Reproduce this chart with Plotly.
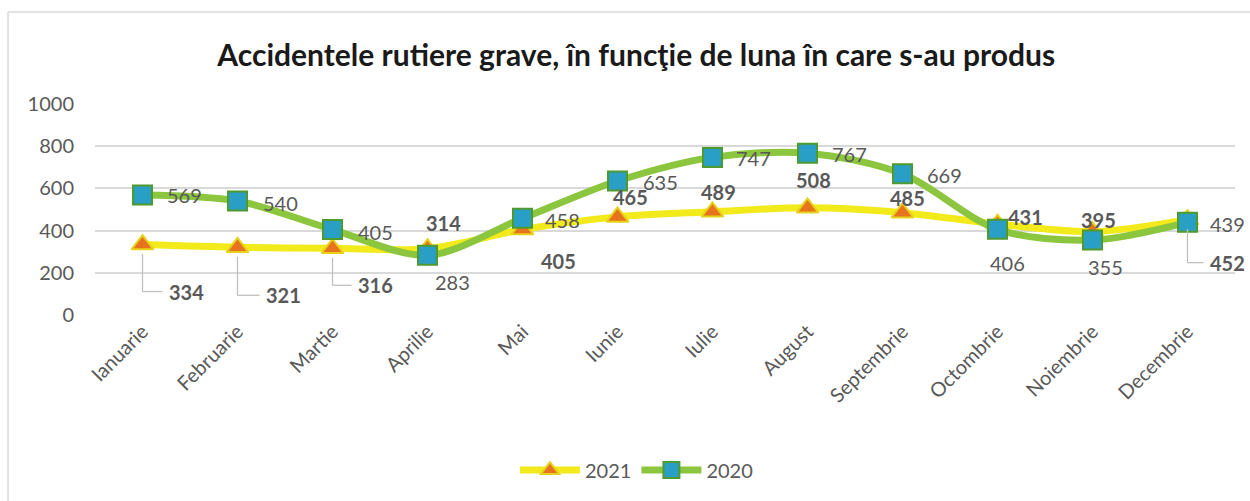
import plotly.graph_objects as go

months = ["Ianuarie", "Februarie", "Martie", "Aprilie", "Mai", "Iunie", "Iulie",
          "August", "Septembrie", "Octombrie", "Noiembrie", "Decembrie"]
v2021 = [334, 321, 316, 314, 405, 465, 489, 508, 485, 431, 395, 452]
v2020 = [569, 540, 405, 283, 458, 635, 747, 767, 669, 406, 355, 439]
y_ticks = [0, 200, 400, 600, 800, 1000]

# label offsets in pixels (dx, dy) relative to marker; leader flag
off2021 = [(44, -47, True), (46, -48, True), (43, -37, True), (16, 26, False),
           (36, -31, False), (13, 20, False), (6, 20, False), (6, 28, False),
           (5, 15, False), (28, 7, False), (6, 12, False), (40, -43, True)]
off2020 = [(42, 0), (43, -2), (43, -2), (25, -27), (40, -2), (43, -1), (41, -1),
           (42, -1), (42, -1), (10, -34), (13, -27), (40, -2)]

FONT = "Lato"
GREY = "#595959"
YEL = "#F2EA1B"
GRN = "#8CC63F"

fig = go.Figure()
fig.add_trace(go.Scatter(
    x=months, y=v2021, name="2021", mode="lines+markers",
    line=dict(color=YEL, width=7, shape="spline", smoothing=0.9),
    marker=dict(symbol="triangle-up", size=19, color="#E8731E",
                line=dict(color="#E6D21A", width=2)),
))
fig.add_trace(go.Scatter(
    x=months, y=v2020, name="2020", mode="lines+markers",
    line=dict(color=GRN, width=7, shape="spline", smoothing=0.9),
    marker=dict(symbol="square", size=19, color="#2A9FC6",
                line=dict(color="#4E9A2E", width=2)),
))

ann = []
shapes = []
for i, (m, v) in enumerate(zip(months, v2021)):
    dx, dy, lead = off2021[i]
    ann.append(dict(x=m, y=v, xref="x", yref="y", text=f"<b>{v}</b>", showarrow=False,
                    xshift=dx, yshift=dy, font=dict(family=FONT, size=20, color=GREY)))
for i, (m, v) in enumerate(zip(months, v2020)):
    dx, dy = off2020[i]
    ann.append(dict(x=m, y=v, xref="x", yref="y", text=f"{v}", showarrow=False,
                    xshift=dx, yshift=dy, font=dict(family=FONT, size=20, color=GREY)))

# leader lines (elbow) for labels placed below markers
px_per_unit = 211 / 1000.0
px_per_cat = 1140 / 12.0
for i, v in enumerate(v2021):
    dx, dy, lead = off2021[i]
    if lead:
        ylow = v + dy / px_per_unit
        shapes.append(dict(type="line", xref="x", yref="y", x0=i, x1=i,
                           y0=v - 45, y1=ylow, line=dict(color="#BFBFBF", width=1.3)))
        shapes.append(dict(type="line", xref="x", yref="y", x0=i, x1=i + (dx - 24) / px_per_cat,
                           y0=ylow, y1=ylow, line=dict(color="#BFBFBF", width=1.3)))

# outer chart border (top and left visible)
shapes.append(dict(type="line", xref="paper", yref="paper", x0=-0.0763, x1=1.03,
                   y0=1.436, y1=1.436, line=dict(color="#D9D9D9", width=1.5)))
shapes.append(dict(type="line", xref="paper", yref="paper", x0=-0.0763, x1=-0.0763,
                   y0=1.436, y1=-0.95, line=dict(color="#D9D9D9", width=1.5)))

fig.update_layout(
    width=1250, height=501,
    margin=dict(l=95, r=15, t=104, b=186, autoexpand=False),
    paper_bgcolor="white", plot_bgcolor="white",
    title=dict(text="<b>Accidentele rutiere grave, în funcţie de luna în care s-au produs</b>",
               x=0.509, xanchor="center", y=0.89, yanchor="middle",
               font=dict(family=FONT, size=30, color="#1a1a1a")),
    xaxis=dict(range=[-0.5, 11.5], tickangle=-45, tickfont=dict(family=FONT, size=20, color=GREY),
               showgrid=False, showline=False, ticks="", zeroline=False, automargin=False),
    yaxis=dict(range=[0, 1000], tickvals=y_ticks, tickfont=dict(family=FONT, size=20, color=GREY),
               showgrid=True, gridcolor="#D9D9D9", gridwidth=1.5, zeroline=False,
               showline=False, ticks="", ticklabelstandoff=20, automargin=False),
    legend=dict(orientation="h", x=0.475, xanchor="center", y=-0.735, yanchor="middle",
                font=dict(family=FONT, size=20, color=GREY), itemwidth=60),
    annotations=ann, shapes=shapes, showlegend=True,
)

fig.write_html("out.html", config={"displayModeBar": False},
               post_script="document.body.style.margin='0';document.body.style.overflow='hidden';")
